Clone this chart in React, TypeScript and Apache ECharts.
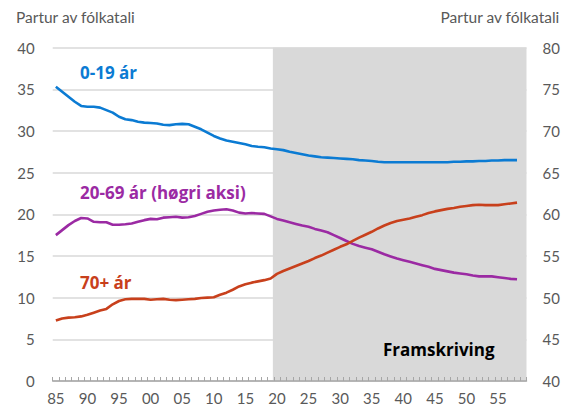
import React, { useEffect, useRef } from "react";
import * as echarts from "echarts";

const years: string[] = [];
for (let y = 1985; y <= 2059; y++) years.push(String(y));

const age0to19 = [
  35.3, 34.7, 34.1, 33.5, 33.0, 32.9, 32.9, 32.8, 32.5, 32.2,
  31.7, 31.4, 31.3, 31.1, 31.0, 30.95, 30.9, 30.75, 30.7, 30.8,
  30.85, 30.8, 30.5, 30.2, 29.8, 29.4, 29.1, 28.85, 28.7, 28.55,
  28.4, 28.2, 28.1, 28.05, 27.9, 27.8, 27.7, 27.5, 27.35, 27.2,
  27.05, 26.95, 26.85, 26.8, 26.75, 26.7, 26.65, 26.6, 26.5, 26.45,
  26.4, 26.3, 26.25, 26.25, 26.25, 26.25, 26.25, 26.25, 26.25, 26.25,
  26.25, 26.25, 26.25, 26.3, 26.3, 26.35, 26.35, 26.4, 26.4, 26.45,
  26.45, 26.5, 26.5, 26.5,
];

const age20to69 = [
  57.5, 58.1, 58.7, 59.2, 59.55, 59.5, 59.1, 59.05, 59.05, 58.75,
  58.75, 58.8, 58.9, 59.1, 59.3, 59.45, 59.4, 59.6, 59.65, 59.7,
  59.6, 59.65, 59.8, 60.05, 60.3, 60.45, 60.55, 60.6, 60.45, 60.2,
  60.1, 60.15, 60.1, 60.05, 59.75, 59.45, 59.25, 59.05, 58.85, 58.65,
  58.5, 58.25, 58.05, 57.85, 57.5, 57.15, 56.8, 56.45, 56.2, 56.0,
  55.8, 55.5, 55.2, 54.95, 54.7, 54.5, 54.3, 54.1, 53.9, 53.7,
  53.45, 53.3, 53.15, 53.0, 52.9, 52.8, 52.65, 52.55, 52.55, 52.55,
  52.45, 52.35, 52.25, 52.2,
];

const age70plus = [
  7.25, 7.5, 7.6, 7.65, 7.75, 7.95, 8.2, 8.45, 8.65, 9.2,
  9.6, 9.8, 9.85, 9.85, 9.85, 9.75, 9.8, 9.85, 9.75, 9.7,
  9.75, 9.8, 9.85, 9.95, 10.0, 10.05, 10.35, 10.6, 10.95, 11.35,
  11.6, 11.8, 11.95, 12.1, 12.3, 12.85, 13.2, 13.5, 13.8, 14.1,
  14.4, 14.75, 15.05, 15.4, 15.75, 16.1, 16.4, 16.8, 17.2, 17.55,
  17.9, 18.3, 18.65, 18.95, 19.2, 19.35, 19.5, 19.7, 19.9, 20.15,
  20.35, 20.5, 20.65, 20.75, 20.9, 21.0, 21.1, 21.15, 21.1, 21.1,
  21.1, 21.2, 21.3, 21.4,
];

const projectionStart = 2019.35;
const projectionEnd = 2059.5;

const FONT = "Lato, 'Open Sans', sans-serif";
const BOLD_FONT = "'Open Sans', Lato, sans-serif";
const GREY = "#595959";
const BLUE = "#0b7bd3";
const PURPLE = "#9b2aa3";
const RED = "#c8401c";

export default function App() {
  const ref = useRef<HTMLDivElement>(null);
  useEffect(() => {
    document.body.style.margin = "0";
    const chart = echarts.init(ref.current!, null, { renderer: "svg" });
    chart.setOption({
      animation: false,
      textStyle: { fontFamily: FONT },
      grid: { left: 52.7, right: 40.5, top: 47.6, bottom: 29, containLabel: false },
      xAxis: [
        {
          type: "category",
          data: years,
          boundaryGap: true,
          z: 5,
          axisLine: { show: true, lineStyle: { color: "#a6a6a6", width: 1.5 } },
          axisTick: { show: true, inside: true, length: 4, interval: 0, lineStyle: { color: "#a6a6a6" } },
          axisLabel: {
            interval: 4,
            margin: 9,
            color: GREY,
            fontSize: 15,
            fontFamily: FONT,
            formatter: (v: string) => v.slice(2),
          },
          splitLine: { show: false },
        },
        {
          type: "value",
          min: 1984.5,
          max: 2059.5,
          show: false,
        },
      ],
      yAxis: [
        {
          type: "value",
          min: 0,
          max: 40,
          interval: 5,
          axisLine: { show: false },
          axisTick: { show: false },
          axisLabel: { color: GREY, fontSize: 15, margin: 18, fontFamily: FONT },
          splitLine: { show: true, lineStyle: { color: "#d9d9d9", width: 1.5 } },
        },
        {
          type: "value",
          min: 40,
          max: 80,
          interval: 5,
          position: "right",
          axisLine: { show: false },
          axisTick: { show: false },
          axisLabel: { color: GREY, fontSize: 15, margin: 16, fontFamily: FONT },
          splitLine: { show: false },
        },
      ],
      series: [
        {
          type: "line",
          xAxisIndex: 1,
          yAxisIndex: 0,
          data: [],
          silent: true,
          markArea: {
            silent: true,
            itemStyle: { color: "#d9d9d9", opacity: 1 },
            data: [[{ xAxis: projectionStart }, { xAxis: projectionEnd }]],
          },
          z: 1,
        },
        {
          name: "0-19 ár",
          type: "line",
          data: age0to19,
          yAxisIndex: 0,
          showSymbol: false,
          lineStyle: { color: BLUE, width: 2.6 },
          itemStyle: { color: BLUE },
          z: 3,
        },
        {
          name: "20-69 ár (høgri aksi)",
          type: "line",
          data: age20to69,
          yAxisIndex: 1,
          showSymbol: false,
          lineStyle: { color: PURPLE, width: 2.6 },
          itemStyle: { color: PURPLE },
          z: 3,
        },
        {
          name: "70+ ár",
          type: "line",
          data: age70plus,
          yAxisIndex: 0,
          showSymbol: false,
          lineStyle: { color: RED, width: 2.6 },
          itemStyle: { color: RED },
          z: 3,
        },
      ],
      graphic: [
        {
          type: "text",
          left: 16,
          top: 9,
          style: { text: "Partur av fólkatali", fill: GREY, font: `15.5px ${FONT}` },
        },
        {
          type: "text",
          right: 7,
          top: 9,
          style: { text: "Partur av fólkatali", fill: GREY, font: `15.5px ${FONT}` },
        },
        {
          type: "text",
          left: 80,
          top: 64,
          z: 10,
          style: { text: "0-19 ár", fill: BLUE, font: `bold 17px ${BOLD_FONT}` },
        },
        {
          type: "text",
          left: 80,
          top: 184,
          z: 10,
          style: { text: "20-69 ár (høgri aksi)", fill: PURPLE, font: `bold 17px ${BOLD_FONT}` },
        },
        {
          type: "text",
          left: 80,
          top: 274,
          z: 10,
          style: { text: "70+ ár", fill: RED, font: `bold 17px ${BOLD_FONT}` },
        },
        {
          type: "text",
          left: 383,
          top: 341,
          z: 10,
          style: { text: "Framskriving", fill: "#000000", font: `bold 17px ${BOLD_FONT}` },
        },
      ],
    });
    return () => chart.dispose();
  }, []);
  return <div ref={ref} style={{ width: 567, height: 410 }} />;
}
